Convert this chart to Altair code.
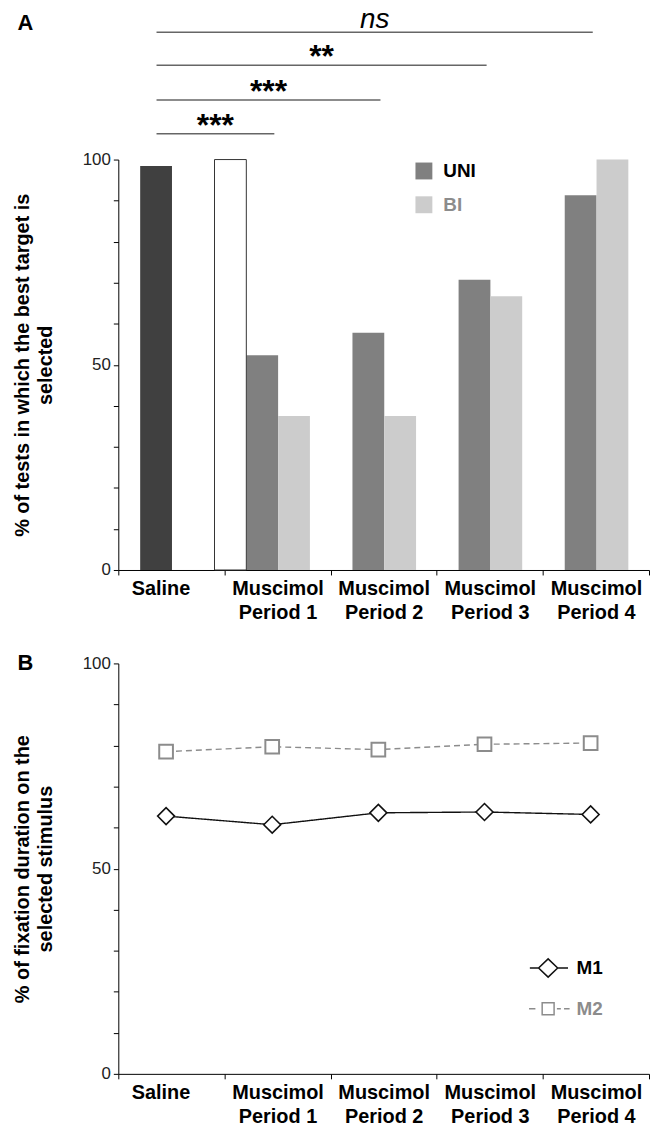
import altair as alt
import pandas as pd

FONT = "Liberation Sans"

# ---------------- data ----------------
categories = ["Saline", "Muscimol|Period 1", "Muscimol|Period 2",
              "Muscimol|Period 3", "Muscimol|Period 4"]
periods = categories[1:]

# Panel A: % of tests in which the best target is selected
saline_pct = 98.4
control_pct = 100.0          # open bar shown with period 1
uni_pct = [52.3, 57.8, 70.7, 91.3]
bi_pct = [37.5, 37.5, 66.7, 100.0]

# significance brackets (Saline vs each muscimol period)
sig_to = periods
sig_text = ["***", "***", "**", "ns"]
sig_level = [106.3, 114.5, 123.0, 131.0]

# Panel B: % of fixation duration on the selected stimulus
monkeys = ["M1", "M2"]
m1_pct = [62.8, 60.7, 63.6, 63.8, 63.2]
m2_pct = [78.5, 79.7, 79.0, 80.3, 80.6]

W = 534
H = 413

# ---------------- tables ----------------
rows = [{"category": "Saline", "slot": "UNI", "series": "SAL", "value": saline_pct}]
for p, u, b in zip(periods, uni_pct, bi_pct):
    rows.append({"category": p, "slot": "UNI", "series": "UNI", "value": u})
    rows.append({"category": p, "slot": "BI", "series": "BI", "value": b})
bars_df = pd.DataFrame(rows)
ctrl_df = pd.DataFrame([{"category": periods[0], "slot": "W", "value": control_pct}])

sig_df = pd.DataFrame({"target": sig_to, "label": sig_text, "level": sig_level})
sig_df["i0"] = categories.index("Saline")
sig_df["i1"] = [categories.index(t) for t in sig_to]

b_rows = []
for c, v1, v2 in zip(categories, m1_pct, m2_pct):
    b_rows.append({"category": c, "monkey": "M1", "value": v1})
    b_rows.append({"category": c, "monkey": "M2", "value": v2})
b_df = pd.DataFrame(b_rows)

# ---------------- scales / axes ----------------
x_band = alt.Scale(domain=categories, paddingInner=0, paddingOuter=0)
slot_scale = alt.Scale(domain=["W", "UNI", "BI"], range=[-10, 86],
                       paddingInner=0, paddingOuter=0)
y_scale = alt.Scale(domain=[0, 100], nice=False)
lin = alt.Scale(domain=[0, len(categories)], nice=False, zero=False)

x_axis = alt.Axis(
    title=None, labelExpr="split(datum.label, '|')", labelAngle=0,
    labelFont=FONT, labelFontSize=20, labelFontWeight="bold", labelColor="black",
    labelLineHeight=24, labelPadding=4,
    labelOffset={"condition": {"test": "datum.value === 'Saline'", "value": -11}, "value": 0},
    tickBand="extent", tickSize=5, tickColor="black", domainColor="black",
)


def y_axis(title):
    return alt.Axis(
        values=list(range(0, 101, 10)),
        labelExpr="datum.value % 50 === 0 ? datum.label : ''",
        title=title, titleFont=FONT, titleFontSize=20, titleFontWeight="bold",
        titleColor="black", titleLineHeight=23, titlePadding=27,
        labelFont=FONT, labelFontSize=17, labelColor="#222222", labelPadding=3,
        tickSize=5, tickColor="black", domainColor="black",
    )


# ---------------- panel A ----------------
xA = alt.X("category:N", sort=categories, scale=x_band, axis=x_axis)
yA = alt.Y("value:Q", scale=y_scale,
           axis=y_axis(["% of tests in which the best target is", "selected"]))

bars = alt.Chart(bars_df).mark_bar().encode(
    x=xA,
    xOffset=alt.XOffset("slot:N", scale=slot_scale),
    y=yA,
    color=alt.Color(
        "series:N",
        scale=alt.Scale(domain=["SAL", "UNI", "BI"],
                        range=["#404040", "#808080", "#cccccc"]),
        legend=alt.Legend(
            values=["UNI", "BI"], title=None, orient="none",
            legendX=298, legendY=2, padding=0,
            symbolType="square", symbolSize=289, symbolStrokeWidth=0,
            labelFont=FONT, labelFontSize=19, labelFontWeight="bold",
            labelColor={"expr": "datum.label === 'BI' ? '#8c8c8c' : '#000000'"},
            labelOffset=10, rowPadding=14,
        ),
    ),
)

ctrl = alt.Chart(ctrl_df).mark_bar(fill="white", stroke="#333333", strokeWidth=1).encode(
    x=xA,
    xOffset=alt.XOffset("slot:N", scale=slot_scale),
    y=yA,
)

sig_base = alt.Chart(sig_df).transform_calculate(
    xs="datum.i0 + 0.36",
    xe="datum.i1 + 0.47",
    xm="(datum.i0 + 0.36 + datum.i1 + 0.47) / 2",
)
sig_rules = sig_base.mark_rule(color="#666666", strokeWidth=1.5).encode(
    x=alt.X("xs:Q", scale=lin, axis=None),
    x2="xe:Q",
    y=alt.Y("level:Q", scale=y_scale),
)
sig_stars = sig_base.transform_filter("datum.label !== 'ns'").mark_text(
    font=FONT, fontSize=32, fontWeight="bold", baseline="alphabetic", dy=2, color="black"
).encode(
    x=alt.X("xm:Q", scale=lin, axis=None),
    y=alt.Y("level:Q", scale=y_scale),
    text="label:N",
)
sig_ns = sig_base.transform_filter("datum.label === 'ns'").mark_text(
    font=FONT, fontSize=28, fontStyle="italic", baseline="alphabetic", dy=-4, color="black"
).encode(
    x=alt.X("xm:Q", scale=lin, axis=None),
    y=alt.Y("level:Q", scale=y_scale),
    text="label:N",
)

bar_layer = alt.layer(bars, ctrl)
sig_layer = alt.layer(sig_rules, sig_stars, sig_ns)

panelA = alt.layer(bar_layer, sig_layer).resolve_scale(
    x="independent"
).properties(
    width=W, height=H,
    title=alt.TitleParams("A", anchor="start", frame="bounds", font=FONT, fontSize=22,
                          fontWeight="bold", color="black", offset=-29, dx=5),
)

# ---------------- panel B ----------------
xB = alt.X("category:N", sort=categories, scale=x_band, axis=x_axis, bandPosition=0.45)
yB = alt.Y("value:Q", scale=y_scale,
           axis=y_axis(["% of fixation duration on the", "selected stimulus"]))
color_scale = alt.Scale(domain=monkeys, range=["#111111", "#8c8c8c"])

lines = alt.Chart(b_df).mark_line(strokeWidth=1.4).encode(
    x=xB, y=yB,
    color=alt.Color("monkey:N", scale=color_scale, legend=None),
    strokeDash=alt.StrokeDash("monkey:N",
                              scale=alt.Scale(domain=monkeys, range=[[1, 0], [6, 4]]),
                              legend=None),
)
pts_m1 = alt.Chart(b_df).transform_filter("datum.monkey === 'M1'").mark_point(
    shape="diamond", filled=False, fill="white", size=290, strokeWidth=1.6, opacity=1
).encode(x=xB, y=yB, color=alt.Color("monkey:N", scale=color_scale, legend=None))
pts_m2 = alt.Chart(b_df).transform_filter("datum.monkey === 'M2'").mark_point(
    shape="square", filled=False, fill="white", size=190, strokeWidth=2, opacity=1
).encode(x=xB, y=yB, color=alt.Color("monkey:N", scale=color_scale, legend=None))

# legend-only layer: zero-size marks, legend symbols drawn as line + marker glyphs
# (data-driven domains keep this legend separate from the hidden colour legend)
path_m1 = "M-2.3,0H-1.2M1.2,0H2.5M0,-1.15L1.2,0L0,1.15L-1.2,0Z"
path_m2 = "M-2.4,0H-1.6M-0.75,-0.75H0.75V0.75H-0.75ZM1.1,0H1.6M2,0H2.7"
leg_b = dict(
    title=None, orient="none", legendX=423, legendY=297, padding=0,
    symbolSize=256, symbolStrokeWidth=1.5, symbolFillColor="transparent",
    labelFont=FONT, labelFontSize=19, labelFontWeight="bold",
    labelColor={"expr": "datum.label === 'M2' ? '#8c8c8c' : '#000000'"},
    labelOffset=19, rowPadding=19,
)
legend_layer = alt.Chart(b_df).mark_point(
    filled=False, strokeWidth=1.5, opacity=1, size=0
).encode(
    x=xB, y=yB,
    shape=alt.Shape("monkey:N", scale=alt.Scale(range=[path_m1, path_m2]),
                    legend=alt.Legend(**leg_b)),
    stroke=alt.Stroke("monkey:N", scale=alt.Scale(range=["#111111", "#8c8c8c"]),
                      legend=alt.Legend(**leg_b)),
)

panelB = alt.layer(lines, legend_layer, pts_m1, pts_m2).properties(
    width=W, height=H,
    title=alt.TitleParams("B", anchor="start", frame="bounds", font=FONT, fontSize=22,
                          fontWeight="bold", color="black", offset=-21, dx=5),
)

chart = alt.vconcat(panelA, panelB, spacing=30).resolve_scale(
    color="independent", shape="independent", stroke="independent",
    strokeDash="independent",
).properties(
    padding={"left": 4, "top": -6, "right": 0, "bottom": 0}
).configure_view(stroke=None).configure_axis(grid=False)

chart.save("out.html", embed_options={"renderer": "svg", "actions": False})
